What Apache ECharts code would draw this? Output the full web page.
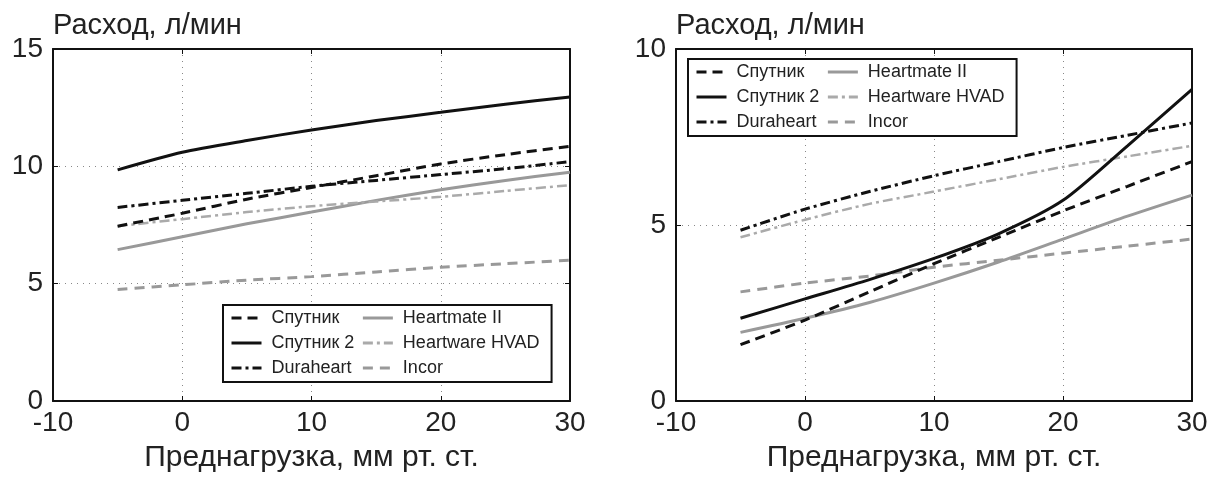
<!DOCTYPE html>
<html>
<head>
<meta charset="utf-8">
<script src="https://cdn.jsdelivr.net/npm/echarts@6/dist/echarts.min.js"></script>
<style>
  html, body { margin: 0; padding: 0; background: #fff; }
  #chart { width: 1214px; height: 479px; }
</style>
</head>
<body>
<div id="chart"></div>
<script>
var xVals = [-5, 0, 5, 10, 15, 20, 25, 30];
var seriesNames = ['Спутник', 'Спутник 2', 'Duraheart', 'Heartmate II', 'Heartware HVAD', 'Incor'];

// левый график
var sputnikL   = [7.45, 8.0, 8.6, 9.1, 9.6, 10.1, 10.5, 10.85];
var sputnik2L  = [9.85, 10.6, 11.1, 11.55, 11.95, 12.3, 12.65, 12.95];
var duraL      = [8.25, 8.55, 8.85, 9.15, 9.4, 9.65, 9.9, 10.2];
var heartmateL = [6.45, 7.0, 7.55, 8.05, 8.55, 9.0, 9.4, 9.75];
var hvadL      = [7.45, 7.75, 8.05, 8.3, 8.5, 8.7, 8.95, 9.2];
var incorL     = [4.75, 4.95, 5.15, 5.3, 5.5, 5.7, 5.85, 6.0];

// правый график
var sputnikR   = [1.6, 2.3, 3.1, 3.9, 4.65, 5.4, 6.1, 6.8];
var sputnik2R  = [2.35, 2.9, 3.45, 4.05, 4.75, 5.7, 7.25, 8.85];
var duraR      = [4.85, 5.45, 5.95, 6.4, 6.8, 7.2, 7.55, 7.9];
var heartmateR = [1.95, 2.35, 2.8, 3.35, 3.95, 4.6, 5.25, 5.85];
var hvadR      = [4.65, 5.15, 5.6, 5.95, 6.3, 6.65, 6.95, 7.25];
var incorR     = [3.1, 3.35, 3.55, 3.8, 4.0, 4.2, 4.4, 4.6];

var lineStyles = [
    {color: '#111', width: 3, type: [10, 6]},
    {color: '#111', width: 3, type: 'solid'},
    {color: '#111', width: 3, type: [10, 4, 3, 4]},
    {color: '#999', width: 3, type: 'solid'},
    {color: '#aaa', width: 2.5, type: [10, 4, 3, 4]},
    {color: '#999', width: 3, type: [10, 7]}
];

function pairs(vals) {
    return xVals.map(function (x, i) { return [x, vals[i]]; });
}

var font = 'Liberation Sans, Arial, sans-serif';

function makeAxes(gi, yMax) {
    var tickStyle = {show: true, inside: true, length: 5, lineStyle: {color: '#111', width: 1}};
    var line = {show: true, onZero: false, lineStyle: {color: '#111', width: 2}};
    var grid = {show: true, lineStyle: {color: '#888', width: 1, type: [1, 5]}};
    return {
        x: [{
            type: 'value', gridIndex: gi, min: -10, max: 30, interval: 10, position: 'bottom',
            axisLine: line, axisTick: tickStyle, splitLine: grid,
            axisLabel: {fontSize: 28, color: '#222', fontFamily: font, margin: 8},
            name: 'Преднагрузка, мм рт. ст.', nameLocation: 'middle', nameGap: 42,
            nameTextStyle: {fontSize: 30, color: '#222', fontFamily: font}
        }, {
            type: 'value', gridIndex: gi, min: -10, max: 30, interval: 10, position: 'top',
            axisLine: line, axisTick: tickStyle, splitLine: {show: false}, axisLabel: {show: false}
        }],
        y: [{
            type: 'value', gridIndex: gi, min: 0, max: yMax, interval: 5, position: 'left',
            axisLine: line, axisTick: tickStyle, splitLine: grid,
            axisLabel: {fontSize: 28, color: '#222', fontFamily: font, margin: 10}
        }, {
            type: 'value', gridIndex: gi, min: 0, max: yMax, interval: 5, position: 'right',
            axisLine: line, axisTick: tickStyle, splitLine: {show: false}, axisLabel: {show: false}
        }]
    };
}

var axL = makeAxes(0, 15);
var axR = makeAxes(1, 10);

var leftData = [sputnikL, sputnik2L, duraL, heartmateL, hvadL, incorL];
var rightData = [sputnikR, sputnik2R, duraR, heartmateR, hvadR, incorR];

var series = [];
[leftData, rightData].forEach(function (set, gi) {
    set.forEach(function (vals, i) {
        series.push({
            name: seriesNames[i],
            type: 'line',
            xAxisIndex: gi * 2,
            yAxisIndex: gi * 2,
            data: pairs(vals),
            showSymbol: false,
            symbol: 'none',
            smooth: 0.25,
            lineStyle: lineStyles[i],
            itemStyle: {color: lineStyles[i].color},
            z: 5 - (i > 2 ? 1 : 0)
        });
    });
});

function legendAt(left, top) {
    return {
        data: seriesNames,
        orient: 'vertical',
        left: left, top: top,
        height: 75,
        itemWidth: 30, itemHeight: 11, itemGap: 7,
        padding: [4, 12, 5, 7],
        borderColor: '#111', borderWidth: 2,
        backgroundColor: '#fff',
        selectedMode: false,
        itemStyle: {opacity: 0},
        lineStyle: {width: 3},
        textStyle: {fontSize: 18, color: '#222', fontFamily: font, padding: [0, 14, 0, 5]}
    };
}

var myChart = echarts.init(document.getElementById('chart'), null, {renderer: 'canvas'});

var titleStyle = {fontSize: 29, fontWeight: 'normal', color: '#222', fontFamily: font};
var option = {
    animation: false,
    backgroundColor: '#fff',
    title: [
        {text: 'Расход, л/мин', left: 53, top: 11, padding: 0, textStyle: titleStyle},
        {text: 'Расход, л/мин', left: 676, top: 11, padding: 0, textStyle: titleStyle}
    ],
    grid: [
        {left: 53, top: 49, width: 517, height: 352},
        {left: 676, top: 49, width: 516, height: 352}
    ],
    xAxis: axL.x.concat(axR.x),
    yAxis: axL.y.concat(axR.y),
    legend: [legendAt(223, 305), legendAt(688, 59)],
    series: series
};
myChart.setOption(option);
</script>
</body>
</html>
